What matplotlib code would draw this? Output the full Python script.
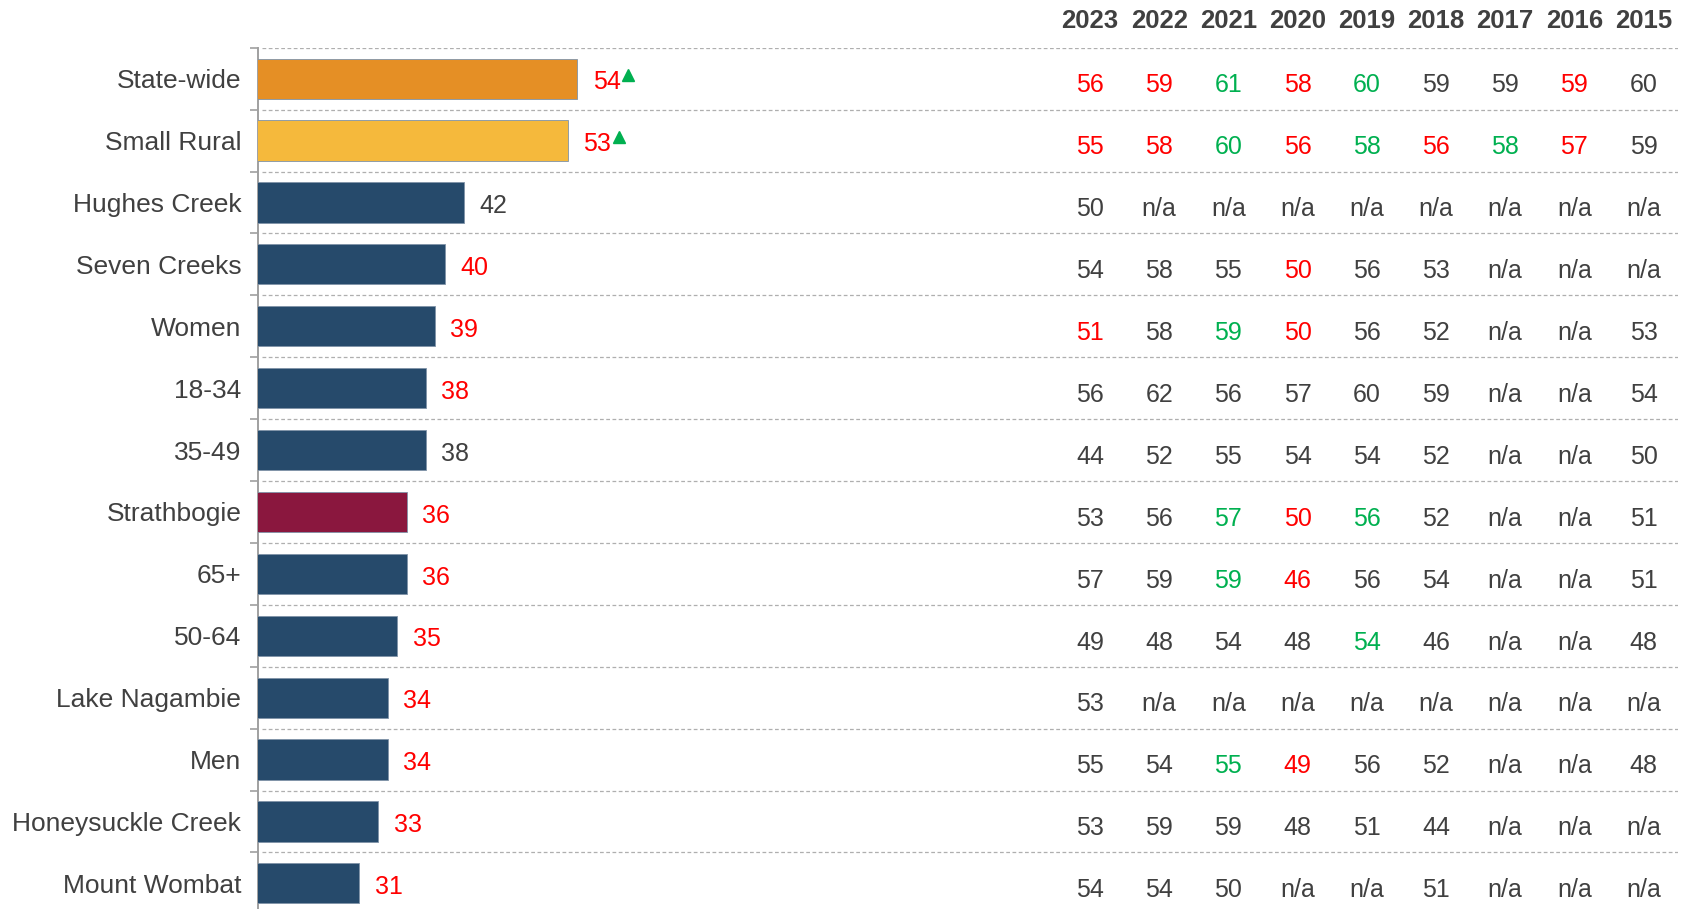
import matplotlib.pyplot as plt
import matplotlib.transforms as mtransforms

plt.rcParams['font.family'] = ['Liberation Sans', 'DejaVu Sans']

# Du lieu doc tu hinh
categories = ['State-wide', 'Small Rural', 'Hughes Creek', 'Seven Creeks', 'Women',
              '18-34', '35-49', 'Strathbogie', '65+', '50-64', 'Lake Nagambie',
              'Men', 'Honeysuckle Creek', 'Mount Wombat']
values_2024 = [54, 53, 42, 40, 39, 38, 38, 36, 36, 35, 34, 34, 33, 31]
# mau nhan gia tri: r = thap hon dang ke, k = binh thuong
value_sig = ['r', 'r', 'k', 'r', 'r', 'r', 'k', 'r', 'r', 'r', 'r', 'r', 'r', 'r']
# tam giac xanh = cao hon dang ke so voi nam truoc
up_arrow = [True, True, False, False, False, False, False, False, False, False,
            False, False, False, False]
bar_kind = ['state', 'group', 'sub', 'sub', 'sub', 'sub', 'sub', 'council', 'sub',
            'sub', 'sub', 'sub', 'sub', 'sub']

years = ['2023', '2022', '2021', '2020', '2019', '2018', '2017', '2016', '2015']
history = [
    ['56', '59', '61', '58', '60', '59', '59', '59', '60'],
    ['55', '58', '60', '56', '58', '56', '58', '57', '59'],
    ['50', 'n/a', 'n/a', 'n/a', 'n/a', 'n/a', 'n/a', 'n/a', 'n/a'],
    ['54', '58', '55', '50', '56', '53', 'n/a', 'n/a', 'n/a'],
    ['51', '58', '59', '50', '56', '52', 'n/a', 'n/a', '53'],
    ['56', '62', '56', '57', '60', '59', 'n/a', 'n/a', '54'],
    ['44', '52', '55', '54', '54', '52', 'n/a', 'n/a', '50'],
    ['53', '56', '57', '50', '56', '52', 'n/a', 'n/a', '51'],
    ['57', '59', '59', '46', '56', '54', 'n/a', 'n/a', '51'],
    ['49', '48', '54', '48', '54', '46', 'n/a', 'n/a', '48'],
    ['53', 'n/a', 'n/a', 'n/a', 'n/a', 'n/a', 'n/a', 'n/a', 'n/a'],
    ['55', '54', '55', '49', '56', '52', 'n/a', 'n/a', '48'],
    ['53', '59', '59', '48', '51', '44', 'n/a', 'n/a', 'n/a'],
    ['54', '54', '50', 'n/a', 'n/a', '51', 'n/a', 'n/a', 'n/a'],
]
history_sig = [
    'rrgrgkkrk',
    'rrgrgrgrk',
    'kkkkkkkkk',
    'kkkrkkkkk',
    'rkgrkkkkk',
    'kkkkkkkkk',
    'kkkkkkkkk',
    'kkgrgkkkk',
    'kkgrkkkkk',
    'kkkkgkkkk',
    'kkkkkkkkk',
    'kkgrkkkkk',
    'kkkkkkkkk',
    'kkkkkkkkk',
]

colors = {
    'state': '#E58F25',
    'group': '#F5B93C',
    'sub': '#264A6B',
    'council': '#8A173E',
    'r': '#FF0000',
    'g': '#00B050',
    'k': '#404040',
    'grid': '#AFAFAF',
    'axis': '#A0A0A0',
}

W, H = 1696, 909
fig = plt.figure(figsize=(W / 100, H / 100), dpi=100)

row_h = 61.9
top_px = 47.7
left_px, right_px = 258, 1678
n = len(categories)
ax = fig.add_axes([left_px / W, 1 - (top_px + n * row_h) / H,
                   (right_px - left_px) / W, n * row_h / H])

xmin = 20.3
px_per_unit = 9.475
ax.set_xlim(xmin, xmin + (right_px - left_px) / px_per_unit)
ax.set_ylim(n - 0.5, -0.5)

y = list(range(n))
ax.barh(y, values_2024, height=0.65,
        color=[colors[k] for k in bar_kind],
        edgecolor='#7F93A8', linewidth=0.6, zorder=3)

# duong ke ngang
for k in range(n):
    ax.plot([0.003, 1.0], [k - 0.5, k - 0.5], transform=ax.get_yaxis_transform(),
            color=colors['grid'], lw=0.9, ls=(0, (3, 2)), zorder=1)

# nhan gia tri
for i, v in enumerate(values_2024):
    ax.annotate(str(v), (v, i + 0.06), xytext=(11, 0), textcoords='offset points',
                ha='left', va='center', fontsize=18, color=colors[value_sig[i]])
    if up_arrow[i]:
        tr = mtransforms.offset_copy(ax.transData, fig=fig, x=51, y=3.5, units='dots')
        ax.plot([v], [i], marker='^', ms=9, color=colors['g'], transform=tr,
                clip_on=False, zorder=4)

ax.set_yticks(y)
ax.set_yticklabels(categories, fontsize=19, color=colors['k'])
ax.tick_params(axis='y', length=0, pad=12)
ax.set_yticks([k - 0.5 for k in range(n + 1)], minor=True)
ax.tick_params(axis='y', which='minor', length=6, width=1.2, color=colors['axis'])
ax.set_xticks([])
for s in ['top', 'right', 'bottom']:
    ax.spines[s].set_visible(False)
ax.spines['left'].set_color(colors['axis'])
ax.spines['left'].set_linewidth(1.4)

# bang cac nam truoc
col_x = [(1090 + 69.2 * j) / W for j in range(len(years))]
trans = mtransforms.blended_transform_factory(fig.transFigure, ax.transData)
for j, yr in enumerate(years):
    fig.text(col_x[j], 1 - 21.5 / H, yr, ha='center', va='center', fontsize=18.5,
             fontweight='bold', color=colors['k'])
for i in range(n):
    for j in range(len(years)):
        fig.text(col_x[j], i + 0.11, history[i][j], transform=trans,
                 ha='center', va='center', fontsize=18,
                 color=colors[history_sig[i][j]])

fig.savefig('out.png', dpi=100, facecolor='white')
